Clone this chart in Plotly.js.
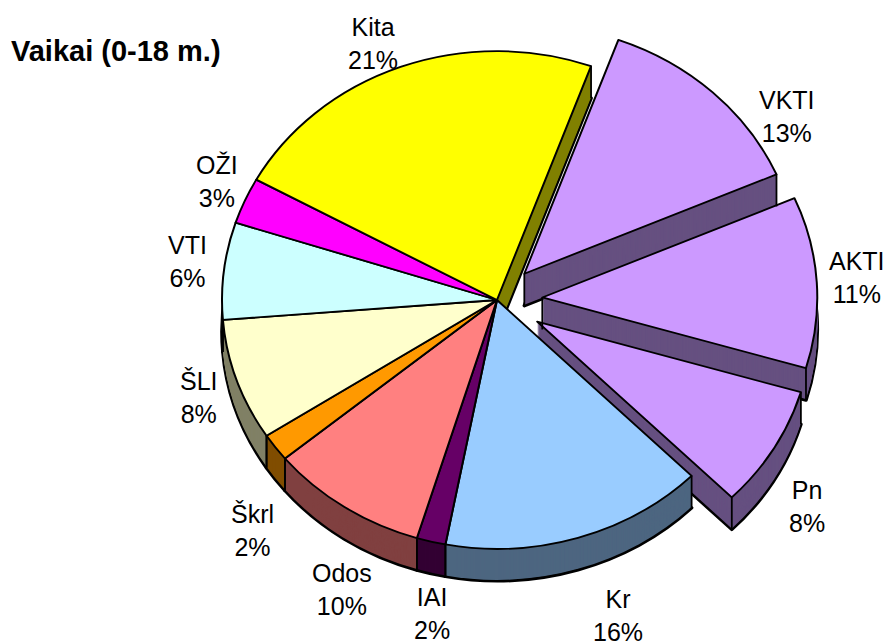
<!DOCTYPE html>
<html><head><meta charset="utf-8">
<script src="https://cdn.plot.ly/plotly-3.0.1.min.js"></script>
<style>html,body{margin:0;padding:0;background:#fff}#c{width:889px;height:644px}</style></head>
<body><div id="c"></div>
<script>
// Data (clockwise, starting at VKTI)
const categories = ['VKTI','AKTI','Pn','Kr','IAI','Odos','Škrl','ŠLI','VTI','OŽI','Kita'];
const values     = [12.9, 11.1, 7.9, 15.5, 1.7, 9.3, 1.8, 7.9, 6.3, 3.0, 22.5];
const percentLabels = ['13%','11%','8%','16%','2%','10%','2%','8%','6%','3%','21%'];
const pulls      = [0.145, 0.165, 0.17, 0, 0, 0, 0, 0, 0, 0, 0];
const topColors  = ['#CC99FF','#CC99FF','#CC99FF','#99CCFF','#660066','#FF8080','#FF9900','#FFFFCC','#CCFFFF','#FF00FF','#FFFF00'];
const sideColors = ['#665080','#665080','#665080','#4D6680','#330033','#804040','#804D00','#808066','#668080','#800080','#808000'];
const labelX = [787,857,807,618,432,342,252,199,187,217,373];
const labelY = [117,277,506,615,613,589,530,397,261,182,43];

const W=889,H=644, cx=497, cy=300, R=275, kY=0.905, depth=32, startAngle=20;
const boxSide = 2*R*(1+Math.max(...pulls));
const dom = {x:[(cx-boxSide/2)/W,(cx+boxSide/2)/W], y:[(H-boxSide)/2/H,(H+boxSide)/2/H]};

function pie(colors,lineW){
  return {type:'pie',labels:categories,values:values,sort:false,direction:'clockwise',rotation:startAngle,
    pull:pulls,domain:dom,textinfo:'none',hoverinfo:'skip',showlegend:false,
    marker:{colors:colors,line:{color:'#000',width:lineW}}};
}
const traces=[pie(sideColors,3.6)];
const offsets=[depth];
for(let d=depth-1;d>=1;d--){traces.push(pie(sideColors,0));offsets.push(d);}
traces.push(pie(topColors,2));offsets.push(0);

// vertical wall edges, projected from the values
const total=values.reduce((a,b)=>a+b,0);
const shapes=[];
function vline(x,y){shapes.push({type:'line',xref:'paper',yref:'paper',x0:x/W,x1:x/W,y0:1-y/H,y1:1-(y+depth)/H,line:{color:'#000',width:1.8}});}
let acc=0;
values.forEach((v,i)=>{
  const a0=startAngle+acc/total*360, a1=a0+v/total*360; acc+=v;
  const midDeg=(a0+a1)/2, mid=midDeg*Math.PI/180, off=pulls[i]*R;
  const ox=cx+off*Math.sin(mid), oy=cy-off*kY*Math.cos(mid);
  const rim=a=>{const t=a*Math.PI/180;return [ox+R*Math.sin(t),oy-R*kY*Math.cos(t)];};
  const norm=a=>((a%360)+360)%360;
  [a0,a1].forEach((a,j)=>{
    const n=norm(a), front=n>=90&&n<=270;
    if(front||(j===1&&n<90)){ const p=rim(a); vline(p[0],p[1]); }
  });
  if(pulls[i]>0 && midDeg<100) vline(ox,oy);
});

const annotations=categories.map((c,i)=>({text:c+'<br>'+percentLabels[i],x:labelX[i]/W,y:1-labelY[i]/H,xref:'paper',yref:'paper',
  xanchor:'center',yanchor:'middle',showarrow:false,align:'center',font:{family:'Liberation Sans, Arial',size:25,color:'#000'}}));
annotations.push({text:'<b>Vaikai (0-18 m.)</b>',x:9/W,y:1-51/H,xref:'paper',yref:'paper',xanchor:'left',yanchor:'middle',showarrow:false,
  font:{family:'Liberation Sans, Arial',size:29,color:'#000'}});

Plotly.newPlot('c',traces,{width:W,height:H,margin:{l:0,r:0,t:0,b:0},paper_bgcolor:'#fff',showlegend:false,shapes:shapes,annotations:annotations},{staticPlot:true})
.then(()=>{
  const pcy=H/2;
  document.querySelectorAll('.pielayer .trace').forEach((g,i)=>{
    g.setAttribute('transform',`translate(0,${cy+offsets[i]}) scale(1,${kY}) translate(0,${-pcy})`);
  });
});
</script></body></html>
